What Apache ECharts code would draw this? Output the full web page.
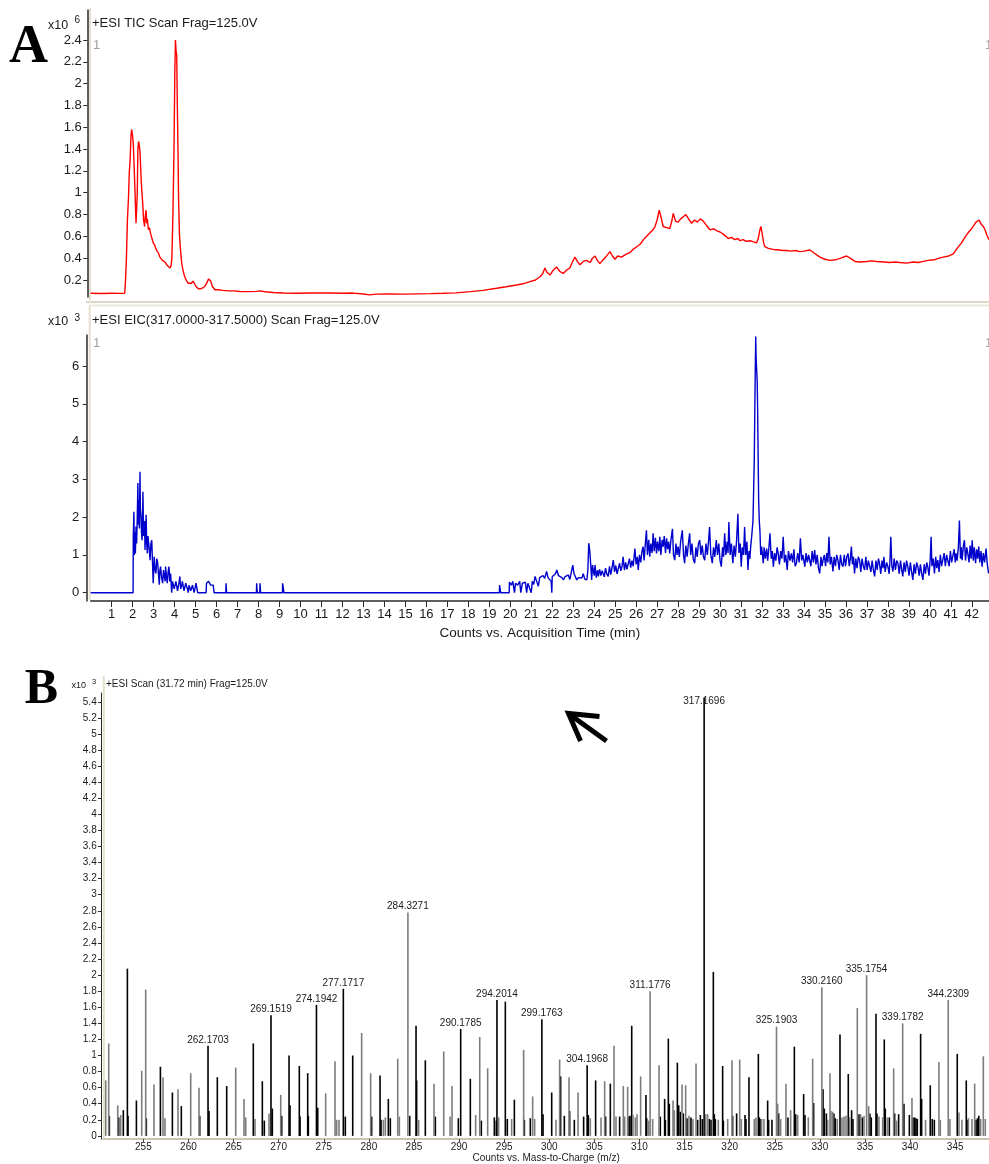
<!DOCTYPE html>
<html>
<head>
<meta charset="utf-8">
<title>TIC / EIC / MS scan</title>
<script src="https://cdn.jsdelivr.net/npm/echarts@6/dist/echarts.min.js"></script>
<style>
  html, body { margin: 0; padding: 0; background: #fff; }
  #chart { width: 989px; height: 1164px; }
</style>
</head>
<body>
<div id="chart"></div>
<script>
// TIC trace, [time (min), counts x10^6]
const ticPoints = [
  [0, 0.078], [0.5, 0.076], [1.0, 0.079], [1.5, 0.077], [1.62, 0.078], [1.66, 0.2], [1.70, 0.38],
  [1.75, 0.75], [1.80, 0.95], [1.84, 1.19], [1.88, 1.3], [1.92, 1.52], [1.95, 1.58], [1.99, 1.53],
  [2.03, 1.45], [2.06, 1.30], [2.11, 1.02], [2.16, 0.72], [2.19, 0.85], [2.22, 1.0], [2.25, 1.40],
  [2.28, 1.47], [2.31, 1.44], [2.35, 1.38], [2.41, 1.10], [2.45, 0.98], [2.48, 0.90], [2.52, 0.75],
  [2.57, 0.69], [2.60, 0.78], [2.64, 0.84], [2.67, 0.72], [2.70, 0.76], [2.75, 0.66], [2.80, 0.68],
  [2.86, 0.62], [2.92, 0.58], [2.98, 0.54], [3.05, 0.52], [3.10, 0.49], [3.15, 0.47], [3.22, 0.45],
  [3.30, 0.41], [3.36, 0.42], [3.42, 0.38], [3.50, 0.37], [3.56, 0.36], [3.62, 0.34], [3.70, 0.33],
  [3.78, 0.31], [3.83, 0.33], [3.87, 0.40], [3.92, 0.81], [3.97, 1.39], [4.01, 2.10], [4.04, 2.40],
  [4.07, 2.30], [4.10, 2.26], [4.13, 1.80], [4.16, 1.40], [4.19, 0.93], [4.23, 0.62], [4.27, 0.50],
  [4.34, 0.35], [4.40, 0.29], [4.45, 0.25], [4.52, 0.21], [4.58, 0.19], [4.65, 0.17], [4.73, 0.16],
  [4.80, 0.17], [4.88, 0.19], [4.94, 0.18], [5.02, 0.14], [5.13, 0.12], [5.25, 0.12], [5.37, 0.13],
  [5.47, 0.15], [5.55, 0.18], [5.62, 0.21], [5.67, 0.22], [5.72, 0.19], [5.80, 0.14], [5.92, 0.11],
  [6.1, 0.11], [6.3, 0.105], [6.55, 0.1], [6.8, 0.1], [7.1, 0.095], [7.5, 0.093], [7.9, 0.096],
  [8.07, 0.1], [8.3, 0.092], [8.7, 0.085], [9.2, 0.08], [9.8, 0.079], [10.5, 0.08], [11.4, 0.08],
  [12.0, 0.078], [12.5, 0.08], [13.0, 0.072], [13.3, 0.063], [13.6, 0.07], [14.2, 0.072], [15.0, 0.07],
  [15.6, 0.073], [16.2, 0.075], [16.8, 0.078], [17.4, 0.082], [18.1, 0.093], [18.7, 0.105],
  [19.35, 0.124], [19.8, 0.138], [20.3, 0.154], [20.6, 0.165], [20.94, 0.185], [21.2, 0.2],
  [21.42, 0.23], [21.55, 0.26], [21.65, 0.31], [21.75, 0.27], [21.89, 0.245], [22.05, 0.29],
  [22.21, 0.32], [22.35, 0.28], [22.52, 0.26], [22.68, 0.29], [22.84, 0.31], [22.95, 0.36],
  [23.08, 0.41], [23.2, 0.37], [23.32, 0.34], [23.48, 0.37], [23.64, 0.38], [23.8, 0.36], [23.92, 0.40],
  [24.04, 0.42], [24.15, 0.38], [24.27, 0.35], [24.4, 0.38], [24.55, 0.41], [24.75, 0.46], [24.87, 0.42],
  [24.99, 0.39], [25.12, 0.42], [25.3, 0.41], [25.55, 0.44], [25.7, 0.45], [25.85, 0.48], [26.03, 0.505],
  [26.2, 0.53], [26.35, 0.57], [26.5, 0.60], [26.65, 0.63], [26.8, 0.66], [26.9, 0.69], [27.0, 0.75],
  [27.1, 0.84], [27.18, 0.78], [27.29, 0.69], [27.45, 0.68], [27.6, 0.67], [27.7, 0.74], [27.77, 0.81],
  [27.88, 0.74], [28.0, 0.73], [28.12, 0.76], [28.25, 0.78], [28.37, 0.80], [28.5, 0.76], [28.64, 0.72],
  [28.78, 0.75], [28.92, 0.73], [29.05, 0.76], [29.2, 0.74], [29.35, 0.70], [29.52, 0.66], [29.7, 0.67],
  [29.85, 0.65], [30.0, 0.64], [30.15, 0.62], [30.28, 0.60], [30.39, 0.58], [30.55, 0.59], [30.7, 0.57],
  [30.85, 0.58], [30.95, 0.56], [31.1, 0.57], [31.25, 0.555], [31.43, 0.56], [31.6, 0.55], [31.74, 0.54],
  [31.82, 0.58], [31.9, 0.66], [31.95, 0.69], [32.02, 0.61], [32.08, 0.54], [32.14, 0.505], [32.3, 0.49],
  [32.54, 0.48], [32.8, 0.475], [33.0, 0.47], [33.17, 0.47], [33.4, 0.465], [33.6, 0.47], [33.8, 0.46],
  [34.0, 0.465], [34.28, 0.475], [34.5, 0.445], [34.76, 0.41], [35.0, 0.39], [35.24, 0.38], [35.5, 0.385],
  [35.75, 0.40], [36.03, 0.42], [36.2, 0.40], [36.43, 0.37], [36.7, 0.365], [37.0, 0.37], [37.2, 0.375],
  [37.47, 0.37], [37.8, 0.365], [38.1, 0.36], [38.35, 0.365], [38.58, 0.36], [38.9, 0.355], [39.2, 0.365],
  [39.45, 0.36], [39.69, 0.37], [39.9, 0.38], [40.2, 0.385], [40.45, 0.40], [40.64, 0.41], [40.9, 0.42],
  [41.12, 0.44], [41.3, 0.49], [41.51, 0.54], [41.7, 0.60], [41.85, 0.64], [41.99, 0.67], [42.1, 0.70],
  [42.2, 0.73], [42.28, 0.74], [42.35, 0.75], [42.45, 0.71], [42.55, 0.69], [42.63, 0.66], [42.72, 0.61],
  [42.82, 0.57]
];

// EIC 317.0-317.5 trace, [time (min), counts x10^3]
const eicPoints = [
  [0, 0], [2.02, 0], [2.03, 1.48], [2.06, 2.14], [2.08, 1.0], [2.11, 1.6], [2.13, 1.04], [2.16, 1.75],
  [2.19, 1.3], [2.22, 2.0], [2.25, 2.9], [2.27, 1.8], [2.30, 2.45], [2.32, 1.7], [2.35, 3.2], [2.37, 2.2],
  [2.40, 2.01], [2.42, 1.6], [2.45, 1.39], [2.47, 2.0], [2.49, 2.67], [2.52, 1.5], [2.54, 1.57], [2.57, 1.9],
  [2.59, 1.13], [2.62, 1.6], [2.64, 2.06], [2.67, 1.3], [2.70, 1.04], [2.73, 1.5], [2.77, 1.48], [2.80, 1.1],
  [2.83, 0.86], [2.87, 1.3], [2.91, 1.39], [2.94, 0.9], [2.98, 0.25], [3.01, 0.7], [3.03, 0.95], [3.07, 0.6],
  [3.11, 0.51], [3.15, 0.9], [3.19, 0.81], [3.23, 0.5], [3.27, 0.21], [3.30, 0.6], [3.33, 0.69], [3.38, 0.4],
  [3.43, 0.25], [3.47, 0.6], [3.51, 0.56], [3.55, 0.3], [3.57, 0.69], [3.61, 0.45], [3.65, 0.25], [3.69, 0.55],
  [3.73, 0.69], [3.77, 0.3], [3.81, 0.51], [3.84, 0.2], [3.86, 0], [3.90, 0.3], [3.94, 0.34], [3.98, 0.1],
  [4.02, 0.08], [4.06, 0.3], [4.10, 0.25], [4.14, 0.05], [4.18, 0], [4.22, 0.3], [4.25, 0.43], [4.29, 0.1],
  [4.33, 0.17], [4.37, 0.3], [4.41, 0.30], [4.45, 0.05], [4.49, 0], [4.53, 0.25], [4.57, 0.30], [4.61, 0.1],
  [4.65, 0], [4.69, 0.2], [4.73, 0.25], [4.77, 0.05], [4.81, 0], [4.85, 0.2], [4.89, 0.17], [4.93, 0],
  [4.97, 0], [5.02, 0.25], [5.08, 0.25], [5.10, 0], [5.50, 0], [5.52, 0.25], [5.58, 0.2], [5.62, 0.3],
  [5.67, 0.30], [5.72, 0.2], [5.78, 0.25], [5.84, 0.2], [5.88, 0], [6.44, 0], [6.45, 0.25], [6.48, 0],
  [7.90, 0], [7.91, 0.25], [7.94, 0], [8.06, 0], [8.07, 0.25], [8.10, 0], [9.14, 0], [9.15, 0.25],
  [9.2, 0.25], [9.21, 0], [19.48, 0], [19.49, 0.2], [19.53, 0.2], [19.54, 0], [19.95, 0], [19.96, 0.28],
  [20.05, 0.2], [20.12, 0.3], [20.2, 0], [20.25, 0.25], [20.35, 0.2], [20.45, 0.3], [20.5, 0], [20.58, 0.25],
  [20.66, 0.2], [20.72, 0.28], [20.78, 0], [20.84, 0.25], [20.92, 0.22], [21.0, 0], [21.05, 0.3],
  [21.12, 0.22], [21.18, 0.43], [21.26, 0.3], [21.34, 0.17], [21.4, 0.4], [21.48, 0.35], [21.56, 0.45],
  [21.64, 0.38], [21.73, 0.56], [21.8, 0.4], [21.88, 0.45], [21.95, 0.3], [21.98, 0], [22.0, 0.42],
  [22.08, 0.45], [22.15, 0.5], [22.22, 0.6], [22.3, 0.45], [22.38, 0.48], [22.46, 0.4], [22.54, 0.34],
  [22.6, 0.42], [22.68, 0.38], [22.77, 0.47], [22.84, 0.35], [22.9, 0.4], [22.98, 0.73], [23.04, 0.5],
  [23.1, 0.45], [23.17, 0.34], [23.25, 0.4], [23.33, 0.38], [23.41, 0.39], [23.48, 0.5], [23.55, 0.36],
  [23.6, 0.38], [23.65, 0.34], [23.7, 0.6], [23.74, 1.31], [23.77, 1.2], [23.80, 1.04], [23.84, 0.7],
  [23.88, 0.34], [23.92, 0.73], [24.0, 0.45], [24.04, 0.73], [24.1, 0.4], [24.16, 0.6], [24.2, 0.43],
  [24.26, 0.62], [24.32, 0.45], [24.38, 0.58], [24.43, 0.6], [24.48, 0.42], [24.54, 0.65], [24.6, 0.5],
  [24.67, 0.43], [24.73, 0.7], [24.79, 0.48], [24.85, 0.66], [24.91, 0.86], [24.97, 0.55], [25.03, 0.72],
  [25.09, 0.5], [25.15, 0.51], [25.21, 0.78], [25.27, 0.58], [25.33, 0.7], [25.38, 0.95], [25.44, 0.6],
  [25.5, 0.8], [25.56, 0.62], [25.62, 0.64], [25.68, 0.9], [25.74, 0.66], [25.8, 0.85], [25.86, 0.7],
  [25.94, 1.17], [26.0, 0.75], [26.06, 0.95], [26.1, 0.6], [26.16, 1.0], [26.22, 0.8], [26.28, 1.1],
  [26.33, 1.22], [26.38, 0.85], [26.44, 1.3], [26.49, 1.65], [26.54, 1.0], [26.6, 1.4], [26.65, 0.95],
  [26.7, 1.3], [26.76, 1.05], [26.81, 1.57], [26.86, 1.1], [26.92, 1.45], [26.97, 1.04], [27.02, 1.35],
  [27.08, 1.1], [27.13, 1.48], [27.18, 1.0], [27.24, 1.4], [27.29, 1.22], [27.34, 1.5], [27.4, 1.05],
  [27.45, 1.44], [27.5, 1.15], [27.55, 1.35], [27.6, 1.04], [27.66, 1.4], [27.73, 1.69], [27.78, 1.0],
  [27.84, 0.86], [27.9, 1.3], [27.95, 1.0], [28.0, 1.22], [28.06, 0.95], [28.12, 1.35], [28.2, 1.65],
  [28.26, 1.0], [28.31, 0.78], [28.37, 1.25], [28.43, 0.95], [28.49, 1.3], [28.55, 1.57], [28.6, 1.0],
  [28.66, 1.3], [28.72, 0.9], [28.79, 0.78], [28.85, 1.2], [28.91, 0.95], [28.97, 1.3], [29.03, 1.39],
  [29.09, 1.0], [29.15, 1.25], [29.21, 0.95], [29.27, 0.86], [29.33, 1.3], [29.39, 1.0], [29.45, 1.35],
  [29.5, 1.74], [29.56, 1.0], [29.63, 0.78], [29.69, 1.2], [29.75, 0.95], [29.82, 1.39], [29.88, 1.0],
  [29.94, 1.3], [30.0, 0.85], [30.06, 0.69], [30.12, 1.2], [30.17, 0.95], [30.22, 1.57], [30.28, 1.0],
  [30.34, 1.35], [30.38, 1.05], [30.42, 1.87], [30.48, 1.0], [30.54, 1.3], [30.61, 0.78], [30.67, 1.25],
  [30.73, 0.95], [30.79, 1.4], [30.85, 2.09], [30.9, 1.05], [30.96, 1.3], [31.01, 0.69], [31.06, 1.2],
  [31.12, 1.0], [31.17, 1.74], [31.22, 1.0], [31.28, 1.35], [31.33, 0.6], [31.38, 1.1], [31.42, 0.9],
  [31.46, 1.22], [31.51, 1.5], [31.57, 1.91], [31.63, 3.47], [31.67, 5.5], [31.70, 6.78], [31.72, 6.2],
  [31.74, 6.16], [31.77, 5.6], [31.79, 4.92], [31.82, 3.4], [31.84, 2.45], [31.87, 1.9], [31.90, 1.65],
  [31.94, 1.0], [31.98, 1.22], [32.02, 1.0], [32.06, 0.78], [32.1, 1.2], [32.16, 0.9], [32.22, 1.17],
  [32.27, 0.85], [32.33, 1.2], [32.38, 1.57], [32.44, 0.9], [32.49, 1.1], [32.54, 0.69], [32.6, 1.05],
  [32.66, 0.85], [32.72, 1.2], [32.77, 1.04], [32.83, 0.75], [32.89, 1.1], [32.95, 0.9], [33.01, 1.48],
  [33.07, 0.8], [33.13, 1.0], [33.2, 0.6], [33.26, 1.1], [33.33, 0.85], [33.4, 1.04], [33.46, 0.8],
  [33.52, 1.15], [33.58, 0.7], [33.64, 0.78], [33.7, 1.05], [33.77, 0.8], [33.83, 1.44], [33.89, 0.85],
  [33.95, 1.0], [34.04, 0.69], [34.1, 1.05], [34.16, 0.8], [34.22, 1.0], [34.27, 0.95], [34.33, 0.7],
  [34.39, 1.1], [34.45, 0.8], [34.51, 1.13], [34.57, 0.75], [34.63, 1.0], [34.69, 0.65], [34.75, 0.51],
  [34.81, 0.95], [34.86, 0.7], [34.91, 0.86], [34.97, 1.0], [35.03, 0.7], [35.09, 1.05], [35.14, 0.8],
  [35.19, 1.48], [35.25, 0.75], [35.31, 0.95], [35.38, 0.56], [35.44, 0.95], [35.5, 0.7], [35.56, 1.0],
  [35.62, 0.86], [35.68, 0.6], [35.74, 1.0], [35.8, 0.75], [35.86, 0.69], [35.92, 1.0], [35.98, 0.7],
  [36.04, 0.95], [36.1, 1.04], [36.16, 0.7], [36.21, 0.9], [36.26, 1.22], [36.31, 0.75], [36.36, 0.95],
  [36.41, 0.51], [36.47, 0.9], [36.53, 0.65], [36.59, 0.95], [36.65, 0.86], [36.71, 0.55], [36.77, 0.9],
  [36.83, 0.7], [36.89, 0.6], [36.95, 0.95], [37.01, 0.6], [37.07, 0.85], [37.13, 0.9], [37.19, 0.55],
  [37.25, 0.85], [37.31, 0.6], [37.37, 0.43], [37.43, 0.85], [37.49, 0.6], [37.55, 0.9], [37.6, 0.78],
  [37.66, 0.5], [37.72, 0.85], [37.77, 0.65], [37.81, 0.95], [37.87, 0.55], [37.94, 0.8], [38.0, 0.69],
  [38.06, 0.5], [38.1, 0.85], [38.14, 1.48], [38.19, 0.7], [38.24, 0.56], [38.3, 0.9], [38.36, 0.6],
  [38.42, 0.85], [38.48, 0.78], [38.54, 0.5], [38.6, 0.85], [38.66, 0.6], [38.71, 0.43], [38.77, 0.8],
  [38.83, 0.55], [38.89, 0.85], [38.95, 0.69], [39.01, 0.45], [39.07, 0.8], [39.13, 0.55], [39.19, 0.34],
  [39.25, 0.75], [39.31, 0.5], [39.37, 0.8], [39.43, 0.69], [39.49, 0.45], [39.55, 0.75], [39.61, 0.5],
  [39.67, 0.34], [39.73, 0.75], [39.79, 0.5], [39.85, 0.8], [39.9, 0.69], [39.96, 0.45], [40.02, 0.9],
  [40.06, 1.48], [40.1, 0.7], [40.16, 0.9], [40.22, 0.51], [40.28, 0.95], [40.33, 0.65], [40.38, 0.86],
  [40.44, 0.55], [40.5, 1.0], [40.56, 0.7], [40.62, 0.69], [40.68, 1.05], [40.74, 0.7], [40.8, 1.0],
  [40.86, 1.04], [40.92, 0.7], [40.98, 1.1], [41.04, 0.8], [41.1, 0.78], [41.16, 1.15], [41.21, 0.8],
  [41.25, 1.04], [41.3, 0.85], [41.36, 1.2], [41.41, 1.91], [41.46, 0.9], [41.5, 1.2], [41.54, 0.86],
  [41.6, 1.25], [41.65, 1.39], [41.7, 0.85], [41.76, 1.2], [41.81, 1.04], [41.87, 0.8], [41.92, 1.25],
  [41.97, 0.9], [42.02, 1.39], [42.07, 0.85], [42.12, 1.2], [42.18, 0.78], [42.23, 1.15], [42.28, 0.9],
  [42.33, 1.22], [42.38, 0.8], [42.44, 1.1], [42.49, 0.69], [42.55, 1.05], [42.61, 0.8], [42.68, 1.17],
  [42.74, 0.75], [42.8, 0.51]
];

// mass spectrum at 31.72 min, [m/z, counts x10^3]
const blackPeaks = [
  [251.23, 0.25], [252.27, 0.23], [252.78, 0.32], [253.23, 2.08], [253.30, 0.25], [254.23, 0.44],
  [255.33, 0.22], [256.89, 0.86], [258.22, 0.54], [259.21, 0.37], [261.25, 0.25], [262.17, 1.12],
  [262.28, 0.31], [263.20, 0.73], [264.24, 0.62], [267.19, 1.15], [268.19, 0.68], [268.41, 0.19],
  [269.15, 1.50], [269.30, 0.34], [270.34, 0.25], [271.15, 1.00], [271.26, 0.38], [272.29, 0.87],
  [272.37, 0.24], [273.22, 0.78], [273.29, 0.25], [274.19, 1.63], [274.33, 0.35], [277.17, 1.83],
  [277.39, 0.24], [278.21, 1.00], [280.31, 0.24], [281.24, 0.75], [281.35, 0.20], [282.16, 0.46],
  [282.38, 0.22], [284.53, 0.25], [285.23, 1.37], [285.30, 0.69], [286.26, 0.94], [287.37, 0.24],
  [289.92, 0.22], [290.18, 1.33], [291.25, 0.71], [292.47, 0.19], [293.91, 0.23], [294.13, 0.19],
  [294.20, 1.69], [295.13, 1.67], [295.35, 0.21], [296.13, 0.45], [297.24, 0.20], [297.90, 0.22],
  [299.18, 1.45], [299.31, 0.27], [300.27, 0.54], [301.26, 0.74], [301.67, 0.25], [302.26, 0.31],
  [302.78, 0.20], [303.81, 0.24], [304.20, 0.88], [304.33, 0.26], [305.14, 0.69], [306.25, 0.24],
  [306.77, 0.65], [307.80, 0.24], [308.84, 0.24], [308.95, 0.25], [309.14, 1.37], [310.72, 0.51],
  [310.80, 0.22], [312.31, 0.24], [312.79, 0.46], [312.87, 0.20], [313.20, 1.21], [313.31, 0.40],
  [314.20, 0.91], [314.35, 0.38], [314.53, 0.30], [314.86, 0.28], [315.27, 0.22], [315.71, 0.23],
  [316.45, 0.20], [316.75, 0.26], [316.97, 0.21], [317.17, 5.45], [317.74, 0.21], [317.93, 0.20],
  [318.19, 2.04], [318.30, 0.27], [318.41, 0.21], [319.22, 0.87], [319.30, 0.19], [320.33, 0.25],
  [320.77, 0.28], [321.70, 0.26], [321.81, 0.21], [322.14, 0.73], [323.18, 1.02], [323.29, 0.23],
  [323.47, 0.21], [324.21, 0.44], [324.32, 0.20], [324.69, 0.20], [325.43, 0.28], [326.46, 0.23],
  [327.17, 1.11], [327.32, 0.27], [328.20, 0.52], [328.35, 0.26], [329.31, 0.41], [330.35, 0.58],
  [330.49, 0.34], [330.72, 0.28], [331.56, 0.28], [331.71, 0.22], [332.23, 1.26], [333.15, 0.77],
  [333.52, 0.32], [333.67, 0.21], [334.34, 0.27], [334.71, 0.23], [335.55, 0.28], [335.70, 0.23],
  [336.22, 1.52], [336.33, 0.28], [337.14, 1.20], [337.25, 0.34], [337.70, 0.23], [338.29, 0.28],
  [338.73, 0.27], [339.32, 0.40], [339.92, 0.26], [340.32, 0.23], [340.51, 0.23], [340.65, 0.22],
  [340.80, 0.21], [341.17, 1.27], [341.28, 0.46], [342.24, 0.63], [342.46, 0.21], [342.69, 0.20],
  [345.23, 1.02], [346.23, 0.69], [346.34, 0.20], [347.31, 0.20], [347.47, 0.22], [347.62, 0.25]
];
const grayPeaks = [
  [250.83, 0.69], [251.16, 1.15], [252.16, 0.38], [252.49, 0.26], [254.82, 0.81], [255.26, 1.82],
  [256.18, 0.64], [257.18, 0.73], [257.40, 0.22], [258.84, 0.58], [260.25, 0.78], [261.17, 0.60],
  [265.24, 0.85], [266.16, 0.46], [266.35, 0.23], [267.38, 0.21], [268.93, 0.28], [270.23, 0.51],
  [275.21, 0.53], [276.25, 0.93], [276.43, 0.20], [276.69, 0.20], [279.20, 1.28], [280.20, 0.78],
  [281.61, 0.20], [281.83, 0.23], [283.20, 0.96], [283.38, 0.24], [284.33, 2.78], [285.52, 0.20],
  [287.22, 0.65], [288.30, 1.05], [289.00, 0.24], [289.22, 0.62], [291.84, 0.26], [292.29, 1.23],
  [293.17, 0.84], [294.39, 0.23], [295.83, 0.21], [297.16, 1.07], [298.16, 0.49], [298.38, 0.21],
  [300.75, 0.20], [301.15, 0.95], [302.19, 0.73], [303.19, 0.54], [304.55, 0.22], [305.74, 0.23],
  [306.14, 0.68], [307.18, 1.12], [307.40, 0.24], [308.21, 0.62], [308.36, 0.24], [308.69, 0.61],
  [309.28, 0.26], [309.54, 0.23], [309.73, 0.27], [310.13, 0.74], [311.02, 0.19], [311.18, 1.80],
  [311.46, 0.21], [312.17, 0.88], [313.72, 0.44], [313.86, 0.32], [314.72, 0.64], [315.12, 0.63],
  [315.49, 0.25], [315.93, 0.21], [316.27, 0.90], [317.34, 0.27], [317.56, 0.27], [318.74, 0.20],
  [319.78, 0.21], [320.26, 0.94], [321.11, 0.95], [321.29, 0.21], [322.73, 0.21], [322.92, 0.23],
  [323.54, 0.21], [323.80, 0.21], [325.19, 1.36], [325.32, 0.40], [325.65, 0.21], [326.24, 0.65],
  [326.76, 0.32], [327.54, 0.26], [328.72, 0.23], [329.20, 0.96], [330.22, 1.85], [330.86, 0.20],
  [331.12, 0.78], [331.23, 0.31], [331.42, 0.30], [331.93, 0.21], [332.45, 0.23], [332.67, 0.24],
  [332.90, 0.25], [333.30, 0.23], [334.15, 1.59], [334.52, 0.27], [334.89, 0.25], [335.18, 2.00],
  [335.41, 0.37], [336.55, 0.24], [336.96, 0.23], [337.48, 0.23], [338.18, 0.84], [338.51, 0.19],
  [339.18, 1.40], [340.21, 0.47], [341.72, 0.20], [343.20, 0.92], [343.35, 0.20], [344.23, 1.69],
  [344.42, 0.21], [345.42, 0.29], [345.75, 0.20], [346.46, 0.22], [346.86, 0.21], [347.16, 0.65],
  [347.82, 0.21], [348.12, 0.99], [348.34, 0.21]
];
// annotated peaks, [m/z, counts x10^3]
const labelledPeaks = [
  [262.1703, 1.12], [269.1519, 1.50], [274.1942, 1.63], [277.1717, 1.83], [284.3271, 2.78],
  [290.1785, 1.33], [294.2014, 1.69], [299.1763, 1.45], [304.1968, 0.88], [311.1776, 1.80],
  [317.1696, 5.45], [325.1903, 1.36], [330.2160, 1.85], [335.1754, 2.00], [339.1782, 1.40],
  [344.2309, 1.69]
];

// tick labels
const timeTicks = [1, 2, 3, 4, 5, 6, 7, 8, 9, 10, 11, 12, 13, 14, 15, 16, 17, 18, 19, 20, 21,
  22, 23, 24, 25, 26, 27, 28, 29, 30, 31, 32, 33, 34, 35, 36, 37, 38, 39, 40, 41, 42];
const ticTicks = [0.2, 0.4, 0.6, 0.8, 1, 1.2, 1.4, 1.6, 1.8, 2, 2.2, 2.4];
const eicTicks = [0, 1, 2, 3, 4, 5, 6];
const mzTicks = [255, 260, 265, 270, 275, 280, 285, 290, 295, 300, 305, 310, 315, 320, 325, 330,
  335, 340, 345];
const specTicks = [0, 0.2, 0.4, 0.6, 0.8, 1, 1.2, 1.4, 1.6, 1.8, 2, 2.2, 2.4, 2.6, 2.8, 3, 3.2,
  3.4, 3.6, 3.8, 4, 4.2, 4.4, 4.6, 4.8, 5, 5.2, 5.4];

const FONT = "'Liberation Sans', Arial, sans-serif";
const AXIS_DARK = "#2a2a2a";
const FRAME = "#e4e0cc";

function txt(text, x, y, size, opts) {
  opts = opts || {};
  return {
    type: "text",
    silent: true,
    style: {
      text: text, x: x, y: y,
      fontSize: size, fontFamily: opts.family || FONT, fontWeight: opts.weight || "normal",
      fill: opts.color || "#1a1a1a",
      align: opts.align || "left", textAlign: opts.align || "left",
      verticalAlign: "middle", textVerticalAlign: "middle"
    }
  };
}
function seg(x1, y1, x2, y2, color, w) {
  return { type: "line", silent: true, shape: { x1: x1, y1: y1, x2: x2, y2: y2 },
    style: { stroke: color, lineWidth: w } };
}

const chart = echarts.init(document.getElementById("chart"), null, { renderer: "canvas" });

const tickLabel = { color: "#1a1a1a", fontFamily: FONT };

const option = {
  animation: false,
  backgroundColor: "#fff",
  grid: [
    { left: 90.7, top: 10, width: 898.3, height: 287 },
    { left: 90.7, top: 335, width: 898.3, height: 266 },
    { left: 103.3, top: 693, width: 885.7, height: 447 }
  ],
  xAxis: [
    { type: "value", gridIndex: 0, min: 0, max: 42.82, show: false },
    {
      type: "value", gridIndex: 1, min: 0, max: 42.82,
      axisLine: { onZero: false, lineStyle: { color: AXIS_DARK, width: 1.5 } },
      axisTick: { customValues: timeTicks, length: 6, lineStyle: { color: AXIS_DARK } },
      axisLabel: Object.assign({ customValues: timeTicks, fontSize: 13, margin: 7 }, tickLabel),
      splitLine: { show: false },
      name: "Counts vs. Acquisition Time (min)", nameLocation: "middle", nameGap: 25,
      nameTextStyle: { fontSize: 13.5, color: "#1a1a1a", fontFamily: FONT }
    },
    {
      type: "value", gridIndex: 2, min: 250.56, max: 348.75,
      axisLine: { onZero: false, lineStyle: { color: "#c9c5b2", width: 2 } },
      axisTick: { customValues: mzTicks, length: 3, lineStyle: { color: "#444" } },
      axisLabel: Object.assign({ customValues: mzTicks, fontSize: 10, margin: 3 }, tickLabel),
      splitLine: { show: false },
      name: "Counts vs. Mass-to-Charge (m/z)", nameLocation: "middle", nameGap: 13,
      nameTextStyle: { fontSize: 10, color: "#1a1a1a", fontFamily: FONT }
    }
  ],
  yAxis: [
    {
      type: "value", gridIndex: 0, min: 0.044, max: 2.675, offset: 3.4,
      axisLine: { show: true, onZero: false, lineStyle: { color: AXIS_DARK, width: 1.5 } },
      axisTick: { show: true, customValues: ticTicks, length: 4, lineStyle: { color: AXIS_DARK } },
      axisLabel: Object.assign({ customValues: ticTicks, fontSize: 13, margin: 5.5 }, tickLabel),
      splitLine: { show: false }
    },
    {
      type: "value", gridIndex: 1, min: -0.22, max: 6.82, offset: 4,
      axisLine: { show: true, onZero: false, lineStyle: { color: AXIS_DARK, width: 1.5 } },
      axisTick: { show: true, customValues: eicTicks, length: 4, lineStyle: { color: AXIS_DARK } },
      axisLabel: Object.assign({ customValues: eicTicks, fontSize: 13, margin: 7.5 }, tickLabel),
      splitLine: { show: false }
    },
    {
      type: "value", gridIndex: 2, min: -0.04, max: 5.51, offset: 2.3,
      axisLine: { show: true, onZero: false, lineStyle: { color: AXIS_DARK, width: 1 } },
      axisTick: { show: true, customValues: specTicks, length: 3, lineStyle: { color: AXIS_DARK } },
      axisLabel: Object.assign({ customValues: specTicks, fontSize: 10, margin: 4.3 }, tickLabel),
      splitLine: { show: false }
    }
  ],
  series: [
    {
      name: "TIC", type: "line", xAxisIndex: 0, yAxisIndex: 0, data: ticPoints,
      symbol: "none", lineStyle: { color: "#ff0000", width: 1.4 }
    },
    {
      name: "EIC", type: "line", xAxisIndex: 1, yAxisIndex: 1, data: eicPoints,
      symbol: "none", lineStyle: { color: "#0000cc", width: 1.4 }
    },
    {
      name: "black", type: "bar", xAxisIndex: 2, yAxisIndex: 2, data: blackPeaks,
      barWidth: 1.6, barGap: "-100%", itemStyle: { color: "#000" }
    },
    {
      name: "gray", type: "bar", xAxisIndex: 2, yAxisIndex: 2, data: grayPeaks,
      barWidth: 1.6, barGap: "-100%", itemStyle: { color: "#7c7c7c" }
    },
    {
      name: "labels", type: "scatter", xAxisIndex: 2, yAxisIndex: 2, symbolSize: 0,
      itemStyle: { opacity: 1 },
      data: labelledPeaks.map(p => ({
        value: p,
        // the base peak label sits on the plot top, as in the instrument export
        label: p[1] > 5 ? { offset: [0, 9] } : undefined
      })),
      label: {
        show: true, position: "top", distance: 1, fontSize: 10, color: "#1a1a1a", opacity: 1,
        fontFamily: FONT, formatter: p => p.value[0].toFixed(4)
      }
    }
  ],
  graphic: [
    // panel frames
    seg(90, 8, 90, 300, FRAME, 2),
    seg(86, 302, 989, 302, "#dcd8c4", 2),
    seg(89, 305.5, 989, 305.5, "#ece9dc", 2),
    seg(89.7, 306, 89.7, 600, FRAME, 2),
    seg(103.8, 676, 103.8, 1139, FRAME, 2),
    // panel letters
    txt("A", 28.5, 48.5, 54, { family: "'Liberation Serif', 'DejaVu Serif', serif", weight: "bold", color: "#000", align: "center" }),
    txt("B", 41.5, 690, 50, { family: "'Liberation Serif', 'DejaVu Serif', serif", weight: "bold", color: "#000", align: "center" }),
    // scale factors
    txt("x10", 48, 26, 12.5), txt("6", 74.5, 20.5, 10),
    txt("x10", 48, 322, 12.5), txt("3", 74.5, 318.5, 10),
    txt("x10", 71.5, 685.5, 9), txt("3", 92, 682, 7.5),
    // trace titles
    txt("+ESI TIC Scan Frag=125.0V", 92, 23.5, 13),
    txt("+ESI EIC(317.0000-317.5000) Scan Frag=125.0V", 92, 320.5, 13),
    txt("+ESI Scan (31.72 min) Frag=125.0V", 106, 684.5, 10),
    // window markers
    txt("1", 93, 45, 13, { color: "#a0a0a0" }),
    txt("1", 985, 45, 13, { color: "#a0a0a0" }),
    txt("1", 93, 343, 13, { color: "#a0a0a0" }),
    txt("1", 985, 343, 13, { color: "#a0a0a0" }),
    // arrow toward the base peak
    {
      type: "polyline", silent: true,
      shape: { points: [[599.5, 716.5], [568.5, 713.5], [580.5, 741]] },
      style: { stroke: "#000", lineWidth: 5, fill: null, lineJoin: "miter" }
    },
    seg(569, 714, 606.5, 741, "#000", 5)
  ]
};

chart.setOption(option);
window.addEventListener("resize", () => {
  chart.resize();
});
</script>
</body>
</html>
